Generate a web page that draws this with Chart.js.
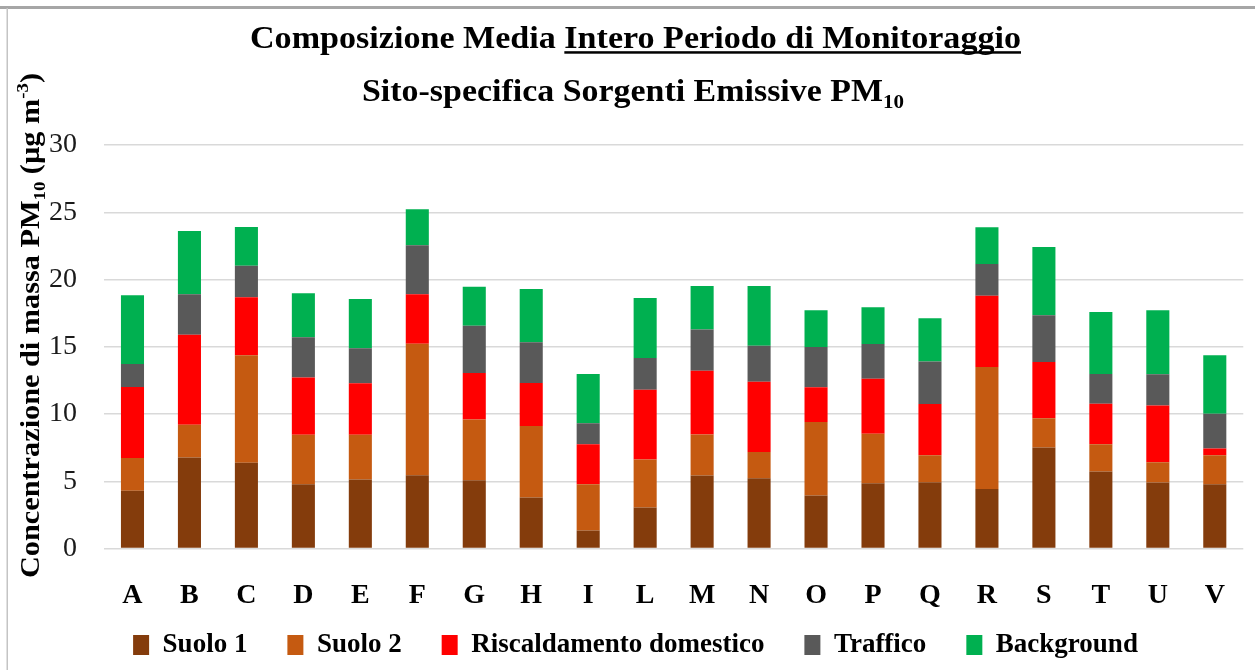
<!DOCTYPE html>
<html>
<head>
<meta charset="utf-8">
<script src="https://cdn.jsdelivr.net/npm/chart.js@4.4.1/dist/chart.umd.min.js"></script>
<style>
  html, body { margin: 0; padding: 0; background: #fff; }
  #wrap { width: 1255px; height: 670px; }
</style>
</head>
<body>
<div id="wrap"><canvas id="chart" width="1255" height="670"></canvas></div>
<script>
// Monitoring sites
const categories = ['A','B','C','D','E','F','G','H','I','L','M','N','O','P','Q','R','S','T','U','V'];

// Average source contributions, µg m-3
const suolo1        = [4.29, 6.77, 6.37, 4.78, 5.13, 5.45, 5.08, 3.79, 1.34, 3.05, 5.43, 5.23, 3.94, 4.86, 4.93, 4.43, 7.51, 5.73, 4.91, 4.78];
const suolo2        = [2.43, 2.43, 7.99, 3.67, 3.32, 9.77, 4.52, 5.31, 3.44, 3.57, 3.05, 1.94, 5.46, 3.67, 2.01, 9.06, 2.18, 2.03, 1.51, 2.16];
const riscaldamento = [5.28, 6.69, 4.32, 4.27, 3.83, 3.68, 3.44, 3.20, 2.98, 5.18, 4.73, 5.23, 2.58, 4.09, 3.80, 5.30, 4.17, 3.00, 4.22, 0.50];
const traffico      = [1.71, 3.01, 2.35, 2.98, 2.60, 3.64, 3.52, 3.03, 1.56, 2.36, 3.08, 2.67, 3.00, 2.58, 3.17, 2.36, 3.48, 2.21, 2.31, 2.57];
const background    = [5.11, 4.71, 2.88, 3.27, 3.67, 2.68, 2.90, 3.96, 3.65, 4.46, 3.23, 4.45, 2.73, 2.73, 3.20, 2.73, 5.08, 4.61, 4.76, 4.35];

const seriesNames = ['Suolo 1', 'Suolo 2', 'Riscaldamento domestico', 'Traffico', 'Background'];
const seriesColors = ['#843C0C', '#C55A11', '#FF0000', '#595959', '#00B050'];
const yTicks = { min: 0, max: 30, step: 5 };

const SERIF = '"Liberation Serif", "DejaVu Serif", serif';

// Draws a sequence of text runs (normal / sub / sup / underline) squeezed to a target width
function drawRuns(ctx, runs, baseSize, targetWidth) {
  let total = 0;
  const measured = runs.map(r => {
    const size = r.small ? baseSize * 0.62 : baseSize;
    ctx.font = `bold ${size}px ${SERIF}`;
    const w = ctx.measureText(r.text).width;
    total += w;
    return { ...r, size, w };
  });
  const sx = targetWidth / total;
  ctx.save();
  ctx.scale(sx, 1);
  let x = 0;
  measured.forEach(r => {
    ctx.font = `bold ${r.size}px ${SERIF}`;
    const dy = r.sub ? baseSize * 0.22 : (r.sup ? -baseSize * 0.38 : 0);
    ctx.fillText(r.text, x, dy);
    if (r.underline) {
      ctx.fillRect(x, baseSize * 0.1, r.w, 2.5);
    }
    x += r.w;
  });
  ctx.restore();
}

const LEGEND_TOP = 591.5;

const decorPlugin = {
  id: 'decor',
  afterLayout(chart) {
    // lift the legend row so it sits just under the category labels
    const lg = chart.legend;
    if (lg) {
      const dy = LEGEND_TOP - lg.top;
      lg.top += dy; lg.bottom += dy;
      lg.left += 5; lg.right += 5;
    }
  },
  beforeDraw(chart) {
    const ctx = chart.ctx;
    ctx.save();
    ctx.fillStyle = '#ffffff';
    ctx.fillRect(0, 0, chart.width, chart.height);
    // frame
    ctx.fillStyle = '#a6a6a6';
    ctx.fillRect(0, 6, chart.width, 3);
    ctx.fillStyle = '#c4c4c4';
    ctx.fillRect(6.5, 8, 1.5, chart.height - 8);
    ctx.restore();
  },
  afterDraw(chart) {
    const ctx = chart.ctx;
    ctx.save();
    ctx.fillStyle = '#000';
    ctx.textBaseline = 'alphabetic';
    ctx.textAlign = 'left';

    // title, line 1
    ctx.save();
    ctx.translate(250, 48);
    drawRuns(ctx, [
      { text: 'Composizione Media ' },
      { text: 'Intero Periodo di Monitoraggio', underline: true }
    ], 32, 771);
    ctx.restore();

    // title, line 2
    ctx.save();
    ctx.translate(362, 101);
    drawRuns(ctx, [
      { text: 'Sito-specifica Sorgenti Emissive PM' },
      { text: '10', small: true, sub: true }
    ], 32, 542);
    ctx.restore();

    // y axis title
    ctx.save();
    ctx.translate(39, 578);
    ctx.rotate(-Math.PI / 2);
    drawRuns(ctx, [
      { text: 'Concentrazione di massa PM' },
      { text: '10', small: true, sub: true },
      { text: ' (µg m' },
      { text: '-3', small: true, sup: true },
      { text: ')' }
    ], 28, 505);
    ctx.restore();

    ctx.restore();
  }
};

const seriesData = [suolo1, suolo2, riscaldamento, traffico, background];

new Chart(document.getElementById('chart'), {
  type: 'bar',
  data: {
    labels: categories,
    datasets: seriesNames.map((name, i) => ({
      label: name,
      data: seriesData[i],
      backgroundColor: seriesColors[i],
      borderWidth: 0,
      categoryPercentage: 1.0,
      barPercentage: 0.405
    }))
  },
  options: {
    responsive: false,
    animation: false,
    layout: { padding: { top: 145, left: 10, right: 4, bottom: -19.5 } },
    plugins: {
      title: { display: false },
      tooltip: { enabled: false },
      legend: {
        position: 'bottom',
        labels: {
          boxWidth: 16,
          boxHeight: 20,
          padding: 40,
          color: '#000',
          font: { family: SERIF, size: 27, weight: 'bold' }
        }
      }
    },
    scales: {
      x: {
        stacked: true,
        grid: { display: false, drawTicks: false },
        border: { display: false },
        ticks: {
          color: '#000',
          padding: 30,
          font: { family: SERIF, size: 28, weight: 'bold', lineHeight: 1.2 }
        },
        afterFit(scale) { scale.height = 64; }
      },
      y: {
        stacked: true,
        min: yTicks.min,
        max: yTicks.max,
        ticks: {
          stepSize: yTicks.step,
          color: '#1a1a1a',
          padding: 27,
          font: { family: SERIF, size: 28 }
        },
        grid: { color: '#d9d9d9', lineWidth: 1.5, drawTicks: false },
        border: { display: false },
        afterFit(scale) { scale.width = 94; }
      }
    }
  },
  plugins: [decorPlugin]
});
</script>
</body>
</html>
